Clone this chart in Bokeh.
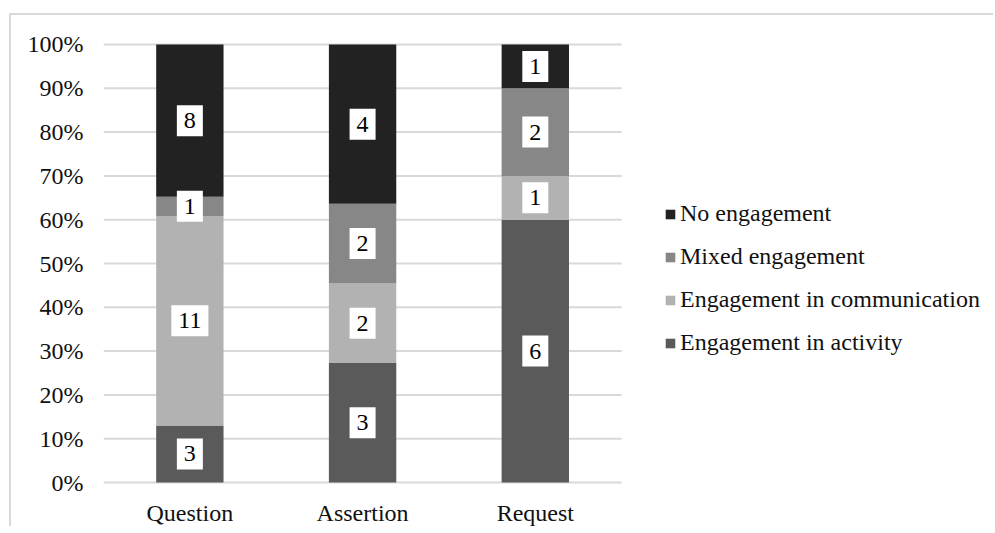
from bokeh.plotting import figure
from bokeh.models import (ColumnDataSource, Range1d, FixedTicker,
                          NumeralTickFormatter, Legend, LegendItem)
from bokeh.core.properties import value
from bokeh.embed import file_html
from bokeh.resources import INLINE

categories = ["Question", "Assertion", "Request"]
series_names = ["Engagement in activity", "Engagement in communication",
                "Mixed engagement", "No engagement"]
activity = [3, 3, 6]
communication = [11, 2, 1]
mixed = [1, 2, 2]
no_engagement = [8, 4, 1]
colors = ["#5a5a5a", "#b2b2b2", "#878787", "#222222"]
y_ticks = [0.0, 0.1, 0.2, 0.3, 0.4, 0.5, 0.6, 0.7, 0.8, 0.9, 1.0]

FONT = "Liberation Serif"
FS = "24px"

counts = [activity, communication, mixed, no_engagement]
keys = ["activity", "communication", "mixed", "none"]
xpos = [i + 0.5 for i in range(len(categories))]
totals = [sum(c[i] for c in counts) for i in range(len(categories))]
data = {"x": xpos}
for k, c in zip(keys, counts):
    data[k] = [v / t for v, t in zip(c, totals)]
src = ColumnDataSource(data)

lx, ly, lt = [], [], []
for i in range(len(categories)):
    cum = 0.0
    for c in counts:
        frac = c[i] / totals[i]
        lx.append(xpos[i])
        ly.append(cum + frac / 2)
        lt.append(str(c[i]))
        cum += frac
lsrc = ColumnDataSource(dict(x=lx, y=ly, t=lt))

p = figure(x_range=Range1d(0, 5.147),
           y_range=Range1d(-0.004545, 1.004545),
           width=984, height=513, output_backend="svg", toolbar_location=None,
           min_border_left=92, min_border_right=3, min_border_top=27,
           min_border_bottom=42)
p.margin = (13, 0, 0, 9)
p.outline_line_color = None
p.background_fill_color = "white"
p.border_fill_color = "white"
p.styles = {"border-top": "2px solid #d9d9d9", "border-left": "2px solid #d9d9d9"}

# horizontal gridlines spanning only the category area
p.xgrid.grid_line_color = None
p.ygrid.grid_line_color = None
p.segment(x0=0, x1=len(categories), y0=y_ticks, y1=y_ticks,
          line_color="#d9d9d9", line_width=2)

rs = p.vbar_stack(keys, x="x", width=0.39, fill_color=colors, line_color=None,
                  source=src)

p.text(x="x", y="y", text="t", source=lsrc, text_font=value(FONT),
       text_font_size=FS, text_align="center", text_baseline="middle",
       text_color="black", background_fill_color="white",
       padding=dict(left=7, right=7, top=8, bottom=8))

p.yaxis.ticker = FixedTicker(ticks=y_ticks)
p.yaxis.formatter = NumeralTickFormatter(format="0%")
p.xaxis.ticker = FixedTicker(ticks=xpos)
p.xaxis.major_label_overrides = {x: c for x, c in zip(xpos, categories)}
for ax in (p.xaxis, p.yaxis):
    ax.axis_line_color = None
    ax.major_tick_line_color = None
    ax.minor_tick_line_color = None
    ax.major_tick_out = 0
    ax.major_tick_in = 0
    ax.major_label_text_font = FONT
    ax.major_label_text_font_size = FS
    ax.major_label_text_color = "#111111"
p.yaxis.major_label_standoff = 20
p.xaxis.major_label_standoff = 15

items = [LegendItem(label=series_names[i], renderers=[rs[i]]) for i in [3, 2, 1, 0]]
legend = Legend(items=items, location=(561, 128), padding=0, margin=0,
                spacing=16, label_height=26, glyph_width=12, glyph_height=12,
                label_standoff=4, label_text_font=FONT, label_text_font_size=FS,
                label_text_color="#111111", border_line_color=None,
                background_fill_alpha=0)
p.add_layout(legend, "center")

open("out.html", "w").write(file_html(p, INLINE))
